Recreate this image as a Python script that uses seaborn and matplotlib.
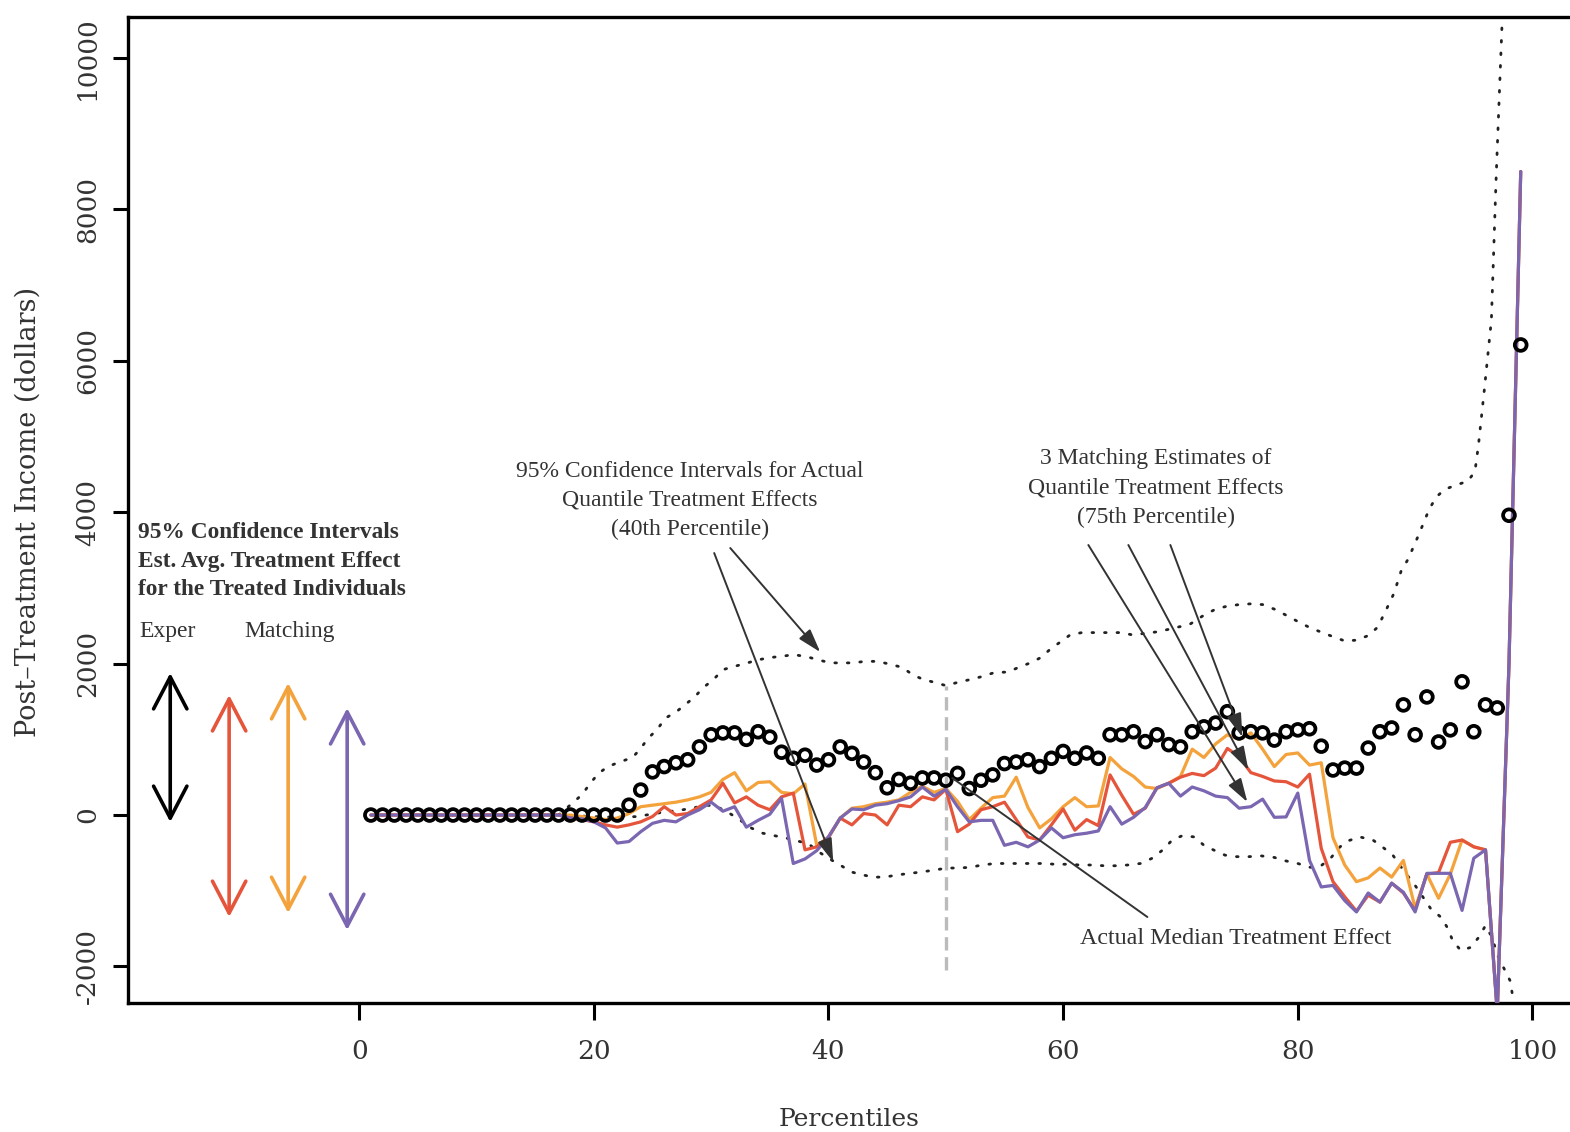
import matplotlib
matplotlib.use("Agg")
import matplotlib.pyplot as plt
import pandas as pd
import seaborn as sns

# ---------------- data ----------------
percentiles = list(range(1, 100))

# actual quantile treatment effects (open circles), p1..p99
actual_qte = [0, 0, 0, 0, 0, 0, 0, 0, 0, 0, 0, 0, 0, 0, 0, 0, 0, 0, 0, 0, 0, 0,
              130, 330, 570, 640, 690, 730, 900, 1060, 1085, 1085,
              1000, 1100, 1030, 830, 750, 790, 660, 730, 900, 815,
              700, 560, 360, 470, 420, 490, 490, 460, 550, 350,
              460, 530, 680, 700, 730, 640, 750, 840, 750, 820,
              750, 1060, 1060, 1100, 970, 1060, 930, 900, 1100, 1165,
              1215, 1365, 1085, 1100, 1085, 990, 1100, 1125, 1140, 910,
              595, 620, 620, 885, 1100, 1150, 1455, 1060, 1560, 965,
              1125, 1760, 1100, 1455, 1415, 3960, 6210]

# three matching estimates, p1..p99
match_orange = [0, 0, 0, 0, 0, 0, 0, 0, 0, 0, 0, 0, 0, 0, 0, 0, 0,
                0, -20, -40, -60, -40, 20, 110, 130, 150, 170,
                200, 240, 300, 470, 560, 320, 430, 440, 300, 280,
                410, -400, -300, -40, 90, 110, 150, 170, 200, 300,
                380, 300, 350, 180, -60, 90, 230, 250, 500, 100,
                -170, -50, 110, 230, 110, 120, 760, 610, 510, 370,
                350, 420, 510, 870, 760, 940, 1060, 1000, 1085, 870,
                640, 800, 820, 660, 690, -300, -660, -880, -830, -700,
                -820, -600, -1230, -780, -1100, -780, -330, -420, -460, -2600,
                2000, 8500]
match_red = [0, 0, 0, 0, 0, 0, 0, 0, 0, 0, 0, 0, 0, 0, 0, 0, 0,
             -40, -60, -90, -130, -160, -130, -90, -20, 110, 0,
             20, 110, 200, 420, 160, 240, 130, 70, 240, 290,
             -460, -420, -290, -40, -130, 20, 0, -130, 130, 110,
             240, 200, 340, -220, -120, 70, 110, 170, -60, -290,
             -330, -130, 80, -200, -60, -140, 530, 260, 10, 90,
             360, 420, 500, 550, 520, 620, 880, 770, 560, 510,
             450, 440, 370, 540, -440, -880, -1080, -1270, -1060, -1150,
             -900, -1030, -1260, -780, -760, -360, -330, -420, -460, -2600,
             2000, 8500]
match_purple = [0, 0, 0, 0, 0, 0, 0, 0, 0, 0, 0, 0, 0, 0, 0, 0, 0,
                -40, -50, -90, -170, -370, -350, -220, -110, -70, -90,
                0, 70, 170, 50, 110, -160, -70, 10, 220, -640,
                -580, -470, -290, -40, 80, 70, 130, 150, 190, 240,
                370, 250, 340, 110, -90, -70, -70, -400, -360, -420,
                -330, -170, -300, -260, -240, -210, 110, -120, -30, 100,
                360, 420, 250, 370, 320, 250, 230, 90, 110, 210,
                -30, -25, 290, -600, -950, -930, -1130, -1280, -1030, -1150,
                -900, -1020, -1280, -770, -770, -770, -1260, -570, -460, -2600,
                2000, 8500]

# 95% CI for actual quantile treatment effects (dotted curves)
ci_upper_pct = [17, 18.2, 19.0, 19.7, 20.4, 21.2, 22.2, 23.3, 24.0, 24.6, 25.4, 26.1, 27.0,
                27.8, 28.6, 29.3, 30.2, 31.0, 31.9, 33.1, 34.0, 35.0, 36.2, 37.0, 38.2,
                39.1, 40.2, 41.2, 42.1, 43.1, 44.2, 45.3, 46.3, 47.2, 48.1, 49.1, 50.0,
                51.2, 52.1, 53.1, 54.1, 55.3, 56.2, 57.2, 58.1, 58.9, 59.8, 60.6, 61.6,
                62.7, 63.8, 64.9, 65.9, 67.0, 68.0, 68.9, 70.0, 70.8, 72.0, 73.0, 74.0,
                75.0, 76.0, 77.0, 78.0, 79.0, 80.2, 81.1, 82.1, 83.1, 84.0, 85.0, 86.0,
                86.8, 87.5, 88.2, 88.8, 89.4, 90.3, 91.2, 91.8, 92.5, 93.5, 94.5, 95.1,
                95.4, 95.9, 96.5, 96.9, 97.4, 97.8]
ci_upper_val = [0, 160, 270, 420, 550, 640, 700, 760, 880, 1010, 1130, 1280, 1360,
                1460, 1560, 1680, 1790, 1920, 1960, 2010, 2050, 2080, 2100, 2120, 2090,
                2050, 2010, 2010, 2010, 2030, 2030, 1990, 1950, 1850, 1790, 1750, 1710,
                1760, 1790, 1830, 1880, 1890, 1950, 2010, 2080, 2190, 2290, 2380, 2410,
                2410, 2410, 2410, 2380, 2400, 2420, 2450, 2490, 2520, 2640, 2720, 2760,
                2780, 2790, 2780, 2720, 2640, 2540, 2470, 2410, 2350, 2300, 2310, 2370,
                2480, 2700, 2930, 3220, 3380, 3700, 4040, 4200, 4300, 4360, 4410, 4540,
                4890, 5620, 6540, 8400, 10420, 12000]
ci_lower_pct = [17, 20, 22, 23.7, 25.6, 27.6, 29.7, 30.5, 31.5, 32.5, 33.4, 34.4, 35.3,
                36.3, 37.3, 38.3, 39.1, 40.1, 41.0, 41.9, 42.9, 43.8, 44.8, 45.9, 47.0,
                48.0, 48.9, 50.1, 51.1, 52.1, 53.1, 54.2, 55.2, 56.2, 57.2, 58.2, 59.3,
                60.3, 61.5, 62.5, 63.5, 64.5, 65.5, 66.6, 67.6, 68.5, 69.3, 70.2, 71.2,
                72.0, 72.8, 73.8, 74.8, 75.8, 76.9, 78.0, 78.8, 80.0, 81.0, 81.9, 82.8,
                83.6, 84.3, 85.3, 86.4, 87.2, 88.1, 89.0, 90.0, 91.3, 92.2, 92.8, 93.2,
                93.9, 94.7, 95.4, 96.0, 96.5, 97.1, 98.1, 98.3, 98.6]
ci_lower_val = [0, -20, -30, -20, 30, 70, 130, 110, 30, -70, -170, -240, -270,
                -300, -340, -380, -480, -580, -660, -750, -790, -820, -820, -790, -770,
                -750, -730, -700, -700, -690, -660, -640, -640, -640, -640, -640, -650,
                -650, -660, -660, -670, -670, -660, -640, -570, -460, -330, -270, -290,
                -400, -460, -530, -550, -550, -540, -560, -600, -640, -690, -680, -570,
                -420, -340, -290, -330, -420, -530, -730, -930, -1230, -1350, -1500, -1660,
                -1790, -1750, -1620, -1460, -1600, -1880, -2190, -2380, -2700]

# 95% CIs of estimated ATT (double arrows on the left)
att_names = ["Exper", "Matching 1", "Matching 2", "Matching 3"]
att_low = [-92, -1347, -1295, -1520]
att_high = [1876, 1585, 1744, 1413]

median_pct = 50
median_line_low, median_line_high = -2050, 1710

x_ticks = [0, 20, 40, 60, 80, 100]
y_ticks = [-2000, 0, 2000, 4000, 6000, 8000, 10000]

# ---------------- styling ----------------
RED = "#E5553B"
ORANGE = "#F4A23C"
PURPLE = "#7A66B1"
TXT = "#333333"

sns.set_style("ticks")
plt.rcParams["font.family"] = ["Liberation Serif", "DejaVu Serif"]

fig = plt.figure(figsize=(15.70, 11.32), dpi=100)
ax = fig.add_axes([128 / 1570, 129 / 1132, 1 - 128 / 1570, 986 / 1132])

# matching estimate lines
lines_df = pd.DataFrame({
    "pct": percentiles * 3,
    "val": match_orange + match_red + match_purple,
    "est": ["orange"] * 99 + ["red"] * 99 + ["purple"] * 99,
})
sns.lineplot(data=lines_df, x="pct", y="val", hue="est",
             palette={"orange": ORANGE, "red": RED, "purple": PURPLE},
             hue_order=["orange", "red", "purple"], estimator=None, sort=False,
             linewidth=2.3, legend=False, ax=ax, zorder=3)

# CI dotted curves
ci_up = pd.DataFrame({"pct": ci_upper_pct, "val": ci_upper_val})
ci_lo = pd.DataFrame({"pct": ci_lower_pct, "val": ci_lower_val})
for d in (ci_up, ci_lo):
    sns.lineplot(data=d, x="pct", y="val", estimator=None, sort=False, color="#222222",
                 linewidth=2.0, linestyle=(0, (0.6, 3.9)), dash_capstyle="round",
                 legend=False, ax=ax, zorder=2)

# median marker line
ax.plot([median_pct, median_pct], [median_line_low, median_line_high],
        color="#BBBBBB", lw=2.4, linestyle=(0, (4, 2)), zorder=1)

# actual QTE circles
circ = pd.DataFrame({"pct": percentiles, "val": actual_qte})
sns.scatterplot(data=circ, x="pct", y="val", marker="o", s=72, facecolor="none",
                edgecolor="black", linewidth=2.7, legend=False, ax=ax, zorder=4)

# ATT CI arrows on the left
arrow_x = [-16.1, -11.08, -6.05, -1.02]
arrow_c = ["black", RED, ORANGE, PURPLE]
for xx, lo, hi, c in zip(arrow_x, att_low, att_high, arrow_c):
    ax.annotate("", xy=(xx, hi), xytext=(xx, lo),
                arrowprops=dict(arrowstyle="<->,head_length=1.15,head_width=0.6",
                                color=c, lw=2.6, mutation_scale=20,
                                shrinkA=0, shrinkB=0), zorder=5)

ax.text(-18.84, 3355, "95% Confidence Intervals\nEst. Avg. Treatment Effect\nfor the Treated Individuals",
        ha="left", va="center", fontsize=16.8, fontweight="bold", color=TXT, linespacing=1.45)
ax.text(-18.7, 2420, "Exper", ha="left", va="center", fontsize=17, color=TXT)
ax.text(-9.75, 2420, "Matching", ha="left", va="center", fontsize=17, color=TXT)

# annotations
ax.text(28.2, 4160, "95% Confidence Intervals for Actual\nQuantile Treatment Effects\n(40th Percentile)",
        ha="center", va="center", fontsize=17, color=TXT, linespacing=1.5)
ax.text(67.9, 4320, "3 Matching Estimates of\nQuantile Treatment Effects\n(75th Percentile)",
        ha="center", va="center", fontsize=17, color=TXT, linespacing=1.5)
ax.text(74.7, -1625, "Actual Median Treatment Effect",
        ha="center", va="center", fontsize=17.3, color=TXT)

arr = dict(arrowstyle="-|>,head_length=0.9,head_width=0.28", color="#333333", lw=1.4,
           mutation_scale=16, shrinkA=0, shrinkB=0)
for (x0, y0), (x1, y1) in [((31.63, 3527), (39.3, 2153)),
                           ((30.26, 3461), (40.41, -621)),
                           ((62.15, 3567), (75.7, 172)),
                           ((65.56, 3567), (75.79, 594)),
                           ((69.14, 3567), (75.28, 1030))]:
    ax.annotate("", xy=(x1, y1), xytext=(x0, y0), arrowprops=arr, zorder=6)
ax.annotate("", xy=(50.55, 489), xytext=(67.18, -1347),
            arrowprops=dict(arrowstyle="-", color="#333333", lw=1.4,
                            shrinkA=0, shrinkB=0), zorder=6)

# axes
ax.set_xlim(-19.7, 103.2)
ax.set_ylim(-2483, 10542)
ax.set_xticks(x_ticks)
ax.set_yticks(y_ticks)
ax.set_xticklabels([str(t) for t in x_ticks], family="DejaVu Serif", fontsize=19, color=TXT)
ax.set_yticklabels([str(t) for t in y_ticks], family="DejaVu Serif", fontsize=19, color=TXT,
                   rotation=90, va="center")
ax.tick_params(axis="x", length=12, width=2.2, pad=14, color="black")
ax.tick_params(axis="y", length=11, width=2.2, pad=9, color="black")
for side in ("left", "bottom", "top"):
    ax.spines[side].set_linewidth(2.4)
    ax.spines[side].set_color("black")
ax.spines["right"].set_visible(False)

ax.set_xlabel("Percentiles", family="DejaVu Serif", fontsize=18, color=TXT)
ax.set_ylabel("Post\u2013Treatment Income (dollars)", family="DejaVu Serif", fontsize=19.5, color=TXT)
ax.xaxis.set_label_coords(0.5, -0.106)
ax.yaxis.set_label_coords(-0.06, 0.498)

fig.savefig("out.png", dpi=100)
